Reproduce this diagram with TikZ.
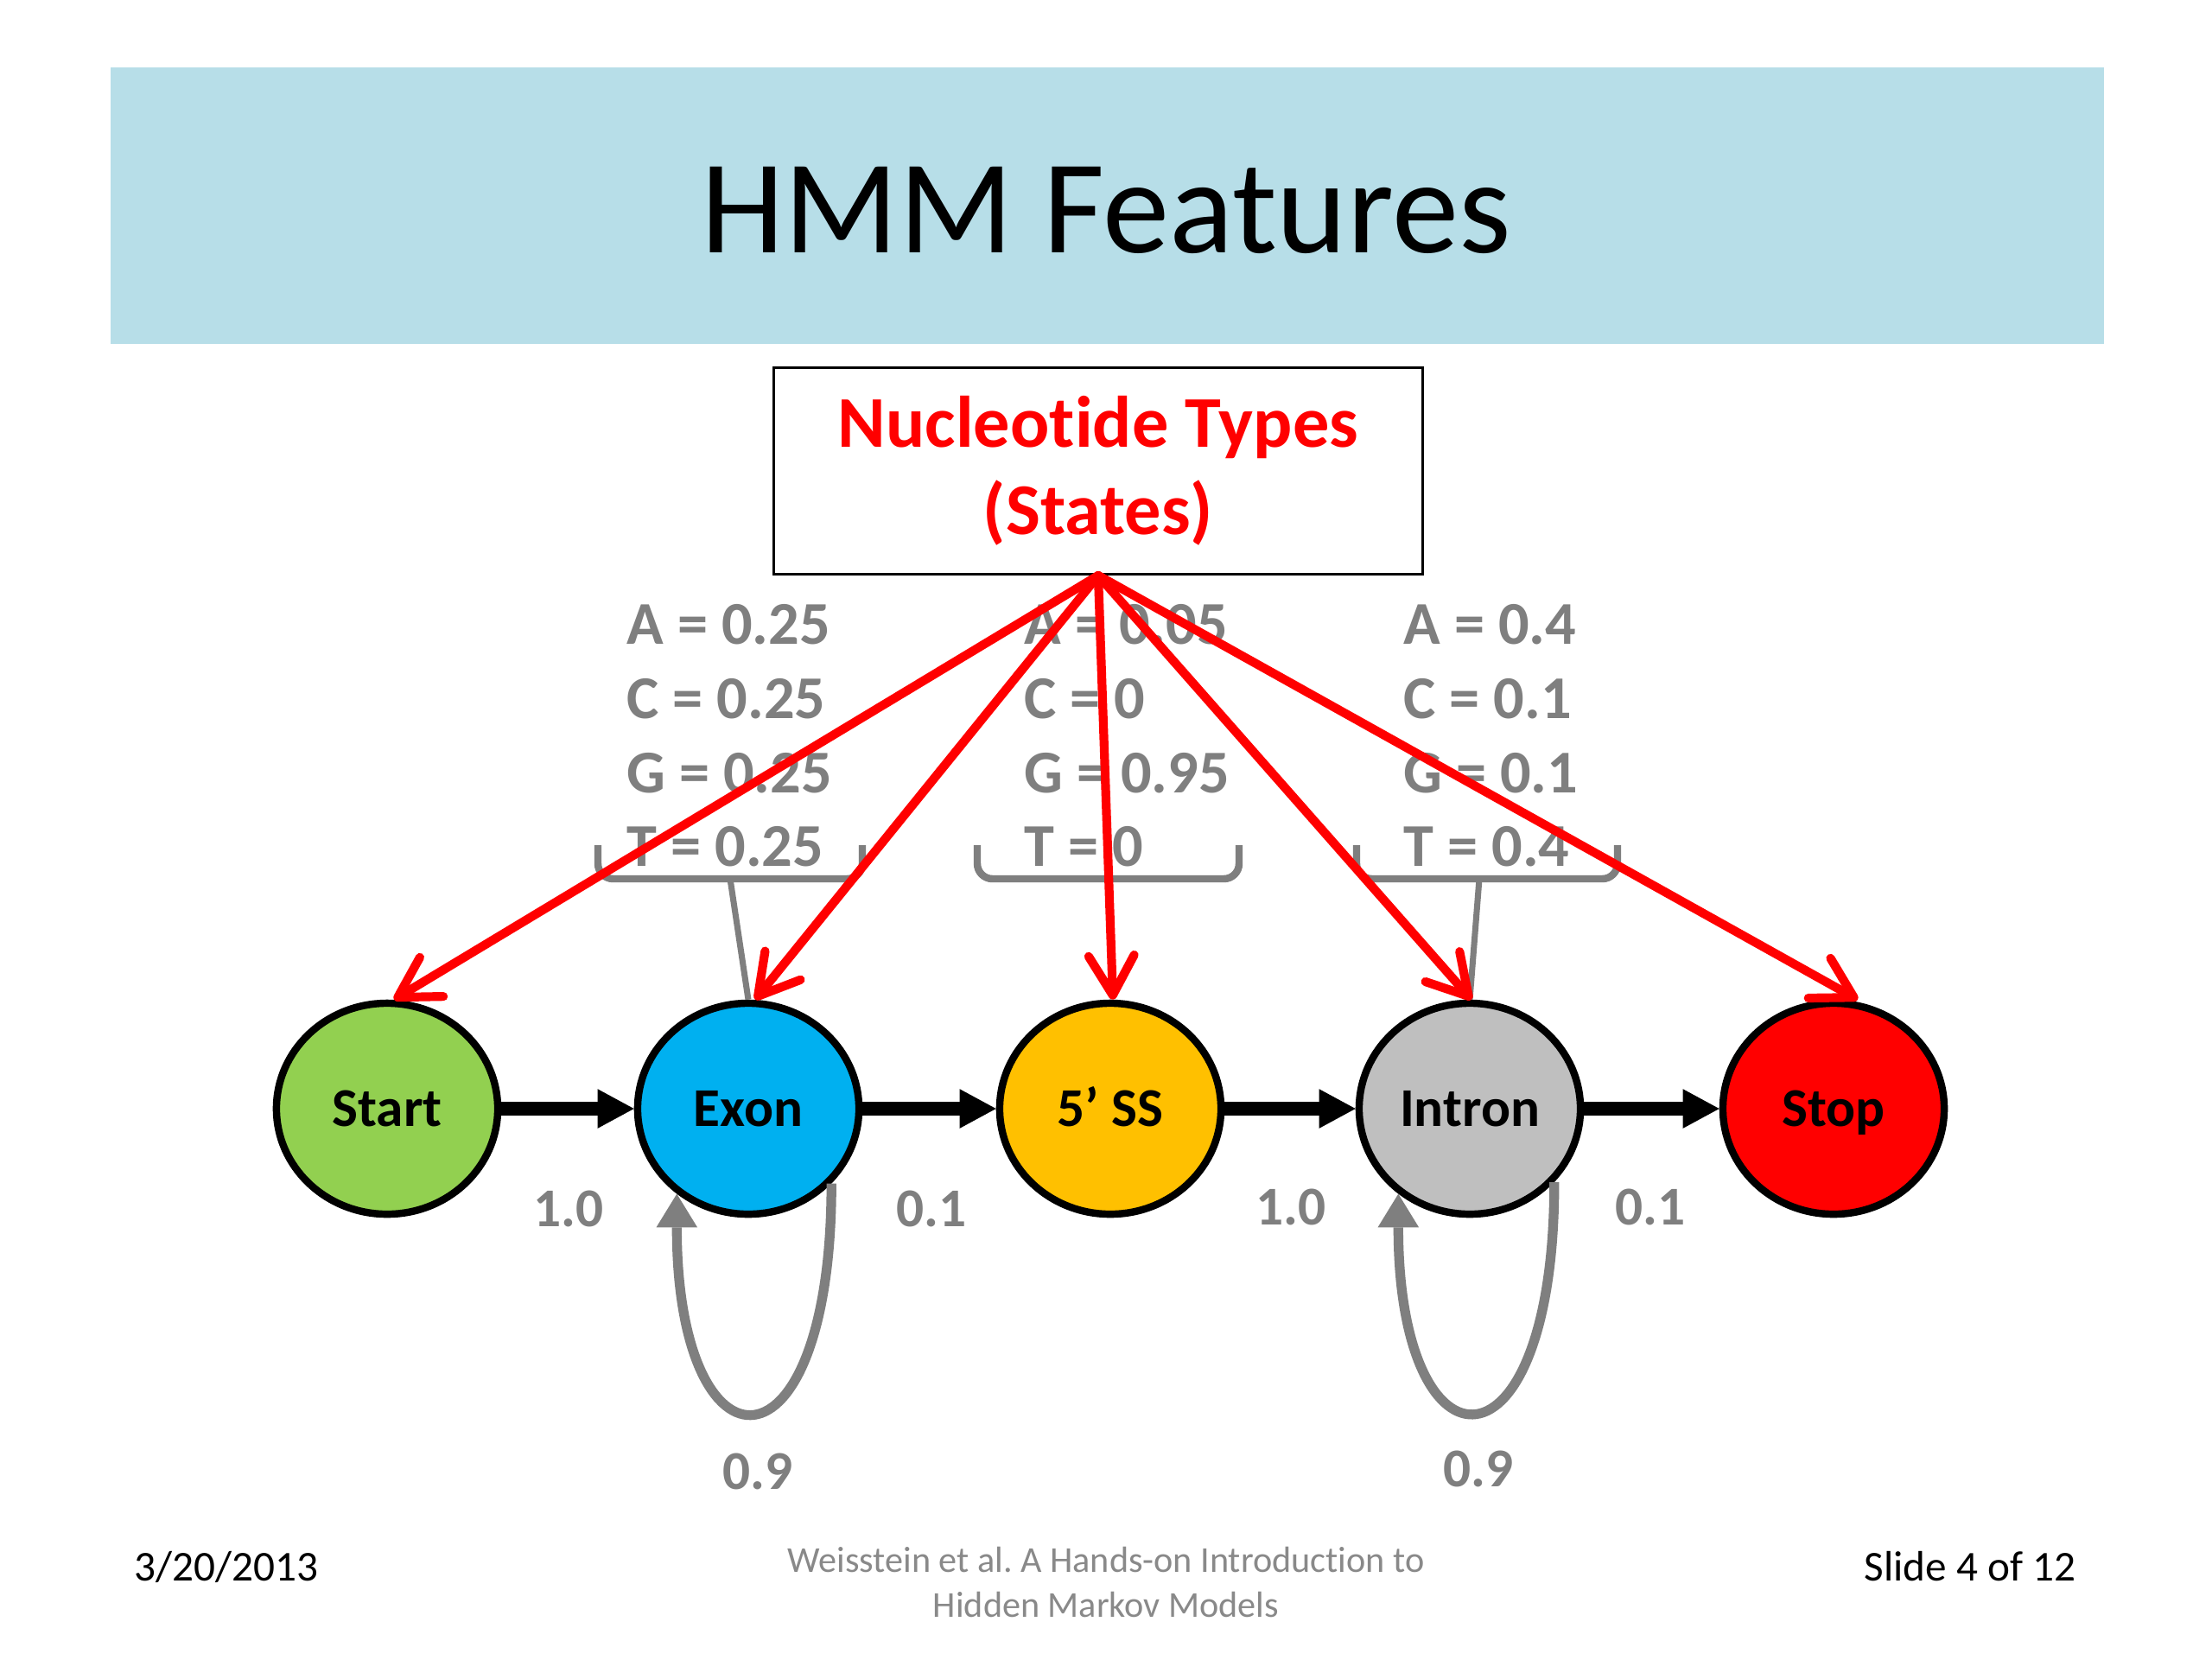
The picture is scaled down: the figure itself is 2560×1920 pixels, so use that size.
\documentclass[tikz,border=0pt]{standalone}
\usepackage{fontspec}
\setmainfont{Carlito}[Ligatures=NoCommon]
\usetikzlibrary{shapes.geometric,arrows.meta,calc}
\definecolor{titleblue}{HTML}{B7DEE8}
\definecolor{stgreen}{HTML}{92D050}
\definecolor{stblue}{HTML}{00B0F0}
\definecolor{stgold}{HTML}{FFC000}
\definecolor{stgray}{HTML}{BFBFBF}
\definecolor{stred}{HTML}{FF0000}
\definecolor{labgray}{HTML}{7F7F7F}
\definecolor{footgray}{HTML}{898989}
\tikzset{
  state/.style={ellipse, draw=black, line width=2.4pt, minimum width=2.56cm, minimum height=2.44cm,
    inner sep=0pt, text height=11.6pt, text depth=0pt, font=\fontsize{18}{21.6}\selectfont\bfseries},
  emis/.style={anchor=base west, inner sep=0pt, text=labgray, font=\fontsize{20}{24}\selectfont\bfseries},
  problab/.style={inner sep=0pt, text=labgray, font=\fontsize{18}{21.6}\selectfont\bfseries},
  trans/.style={line width=4.3pt, -{Triangle[length=12pt,width=13pt,line width=0pt]}},
  selfloop/.style={draw=labgray, line width=3.2pt, -{Triangle[length=11pt,width=13.5pt,line width=0pt]}},
  redarr/.style={draw=stred, line width=2.9pt, line cap=round, -{Straight Barb[length=13pt,width=15pt,round]}},
  brk/.style={draw=labgray, line width=2.4pt, rounded corners=5pt},
  stem/.style={draw=labgray, line width=2pt},
  foot/.style={inner sep=0pt, font=\fontsize{14}{16.8}\selectfont}
}
\begin{document}
\begin{tikzpicture}[x=0.01cm, y=-0.01cm]
\useasboundingbox (0,0) rectangle (2560,1920);
\fill[white] (0,0) rectangle (2560,1920);

% title band
\node[fill=titleblue, minimum width=23.06cm, minimum height=3.2cm, inner sep=0pt, anchor=north west] (band) at (127,77) {};
\node[anchor=base, inner sep=0pt, font=\fontsize{44}{52.8}\selectfont] (title) at (1280,292) {HMM Features};

% nucleotide box
\node[draw=black, line width=0.8pt, minimum width=7.5cm, minimum height=2.39cm, align=center, text=stred,
  font=\fontsize{24}{28.8}\selectfont\bfseries] (nt) at (1271,545) {Nucleotide Types\\(States)};

% emission probabilities
\node[emis] (e11) at (725,745) {A = 0.25};
\node[emis] (e12) at (725,831) {C = 0.25};
\node[emis] (e13) at (725,917) {G = 0.25};
\node[emis] (e14) at (725,1002) {T = 0.25};
\node[emis] (e21) at (1185,745) {A = 0.05};
\node[emis] (e22) at (1185,831) {C = 0};
\node[emis] (e23) at (1185,917) {G = 0.95};
\node[emis] (e24) at (1185,1002) {T = 0};
\node[emis] (e31) at (1624,745) {A = 0.4};
\node[emis] (e32) at (1624,831) {C = 0.1};
\node[emis] (e33) at (1624,917) {G = 0.1};
\node[emis] (e34) at (1624,1002) {T = 0.4};

% brackets
\draw[brk] (692,978) -- (692,1017) -- (998,1017) -- (998,978);
\draw[brk] (1131,978) -- (1131,1017) -- (1434,1017) -- (1434,978);
\draw[brk] (1570,978) -- (1570,1017) -- (1872,1017) -- (1872,978);
\coordinate (s1) at (845,1017);
\coordinate (s3) at (1712,1017);

% states
\node[state, fill=stgreen] (start) at (448,1283) {Start};
\node[state, fill=stblue] (exon) at (866,1283) {Exon};
\node[state, fill=stgold] (ss) at (1285,1283) {5’ SS};
\node[state, fill=stgray] (intron) at (1701,1283) {Intron};
\node[state, fill=stred] (stop) at (2122,1283) {Stop};

% stems
\draw[stem] (s1) -- (exon.north);
\draw[stem] (s3) -- (intron.north);

% transitions
\draw[trans] (start) -- (exon);
\draw[trans] (exon) -- (ss);
\draw[trans] (ss) -- (intron);
\draw[trans] (intron) -- (stop);

\node[problab] (p1) at (658,1399) {1.0};
\node[problab] (p2) at (1078,1399) {0.1};
\node[problab] (p3) at (1494,1397) {1.0};
\node[problab] (p4) at (1910,1397) {0.1};

% self loops
\draw[selfloop] (exon.-42) .. controls +(0,350) and +(0,335) .. (exon.-130);
\draw[selfloop] (intron.-41) .. controls +(0,350) and +(0,335) .. (intron.-130);
\node[problab] (p5) at (877,1703) {0.9};
\node[problab] (p6) at (1711,1700) {0.9};

% emission arrows
\draw[redarr] (nt.south) -- ($(start.north)+(8,0)$);
\draw[redarr] (nt.south) -- ($(exon.north)+(8,0)$);
\draw[redarr] (nt.south) -- ($(ss.north)+(3,0)$);
\draw[redarr] (nt.south) -- ($(intron.north)+(2,0)$);
\draw[redarr] (nt.south) -- ($(stop.north)+(28,0)$);

% footer
\node[foot, anchor=base west] (date) at (155,1829) {3/20/2013};
\node[foot, anchor=base east] (slide) at (2403,1829) {Slide 4 of 12};
\node[inner sep=0pt, align=center, text=footgray, font=\fontsize{12}{14.8}\selectfont] (cite) at (1280,1831)
  {Weisstein et al.\ A Hands-on Introduction to\\Hidden Markov Models};
\end{tikzpicture}
\end{document}
